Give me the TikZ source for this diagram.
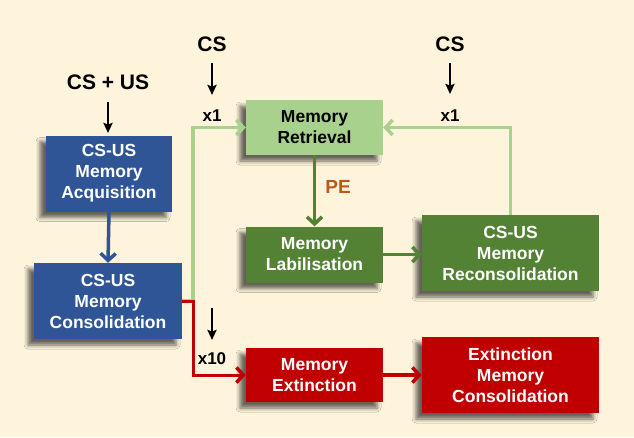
\documentclass[tikz,border=0pt]{standalone}
\usepackage{fontspec}
\setmainfont{Liberation Sans}
\usetikzlibrary{arrows.meta,shadows.blur}
\definecolor{bgc}{HTML}{FDF4DB}
\definecolor{bluebox}{HTML}{2F5597}
\definecolor{ltgreen}{HTML}{A9D18E}
\definecolor{dkgreen}{HTML}{548235}
\definecolor{redbox}{HTML}{C00000}
\definecolor{pecol}{HTML}{B85A1A}
\tikzset{
  box/.style={rectangle, inner sep=2pt, align=center, text=white,
    font=\fontsize{17.5}{21}\selectfont\bfseries,
    blur shadow={shadow xshift=-6pt, shadow yshift=-6pt, shadow blur radius=4pt, shadow opacity=60}},
  bluestyle/.style={box, fill=bluebox},
  ltstyle/.style={box, fill=ltgreen, text=black},
  dkstyle/.style={box, fill=dkgreen},
  redstyle/.style={box, fill=redbox},
  lbl/.style={inner sep=0pt, font=\fontsize{21}{24}\selectfont\bfseries},
  smalllbl/.style={inner sep=0pt, font=\fontsize{17}{20}\selectfont\bfseries},
  blk/.style={line width=2.6pt, -{Stealth[length=10pt,width=9pt,inset=1.5pt]}},
  conn/.style={line width=3.5pt, -{Straight Barb[length=7pt,width=15pt,line width=3.5pt]}},
}
\begin{document}
\begin{tikzpicture}[x=1pt,y=-1pt]
\useasboundingbox (0,0) rectangle (634,437);
\fill[bgc] (0,0) rectangle (634,437);

% boxes
\node[bluestyle, minimum width=126pt, minimum height=76pt] (acq) at (109,173.5) {CS-US\\Memory\\Acquisition};
\node[bluestyle, minimum width=148pt, minimum height=76pt] (cons) at (108,301) {CS-US\\Memory\\Consolidation};
\node[ltstyle, minimum width=137pt, minimum height=55pt] (ret) at (314.5,127.5) {Memory\\Retrieval};
\node[dkstyle, minimum width=137pt, minimum height=56pt] (lab) at (314.5,254.5) {Memory\\Labilisation};
\node[dkstyle, minimum width=177pt, minimum height=76pt] (recon) at (510.5,253) {CS-US\\Memory\\Reconsolidation};
\node[redstyle, minimum width=137pt, minimum height=54pt] (ext) at (314.5,375) {Memory\\Extinction};
\node[redstyle, minimum width=177pt, minimum height=76pt] (extc) at (510.5,375) {Extinction\\Memory\\Consolidation};

% labels
\node[lbl] (csus) at (108,82) {CS + US};
\node[lbl] (csa) at (212,44) {CS};
\node[lbl] (csb) at (450,44) {CS};
\node[smalllbl] (x1a) at (212,116) {x1};
\node[smalllbl] (x1b) at (450,116) {x1};
\node[smalllbl] (x10) at (212,359) {x10};
\node[inner sep=0pt, font=\fontsize{19}{22}\selectfont\bfseries, text=pecol] (pe) at (338,187) {PE};

% black input arrows
\coordinate (s1) at (108,102); \coordinate (e1) at (108,133);
\coordinate (s2) at (212,63);  \coordinate (e2) at (212,95);
\coordinate (s3) at (450,63);  \coordinate (e3) at (450,94);
\coordinate (s4) at (212,308); \coordinate (e4) at (212,340);
\draw[blk] (s1) -- (e1);
\draw[blk] (s2) -- (e2);
\draw[blk] (s3) -- (e3);
\draw[blk] (s4) -- (e4);

% connectors
\draw[conn, bluebox] (acq.south) -- (cons.north);
\draw[conn, ltgreen] (cons.east) -- ++(11,0) |- (ret.west);
\draw[conn, redbox, line width=3pt] (cons.east) -- ++(11,0) |- (ext.west);
\draw[conn, dkgreen] (ret.south) -- (lab.north);
\draw[conn, dkgreen] (lab.east) -- (lab.east -| recon.west);
\draw[conn, ltgreen] (recon.north) |- (ret.east);
\draw[conn, redbox] (ext.east) -- (extc.west);
\end{tikzpicture}
\end{document}
